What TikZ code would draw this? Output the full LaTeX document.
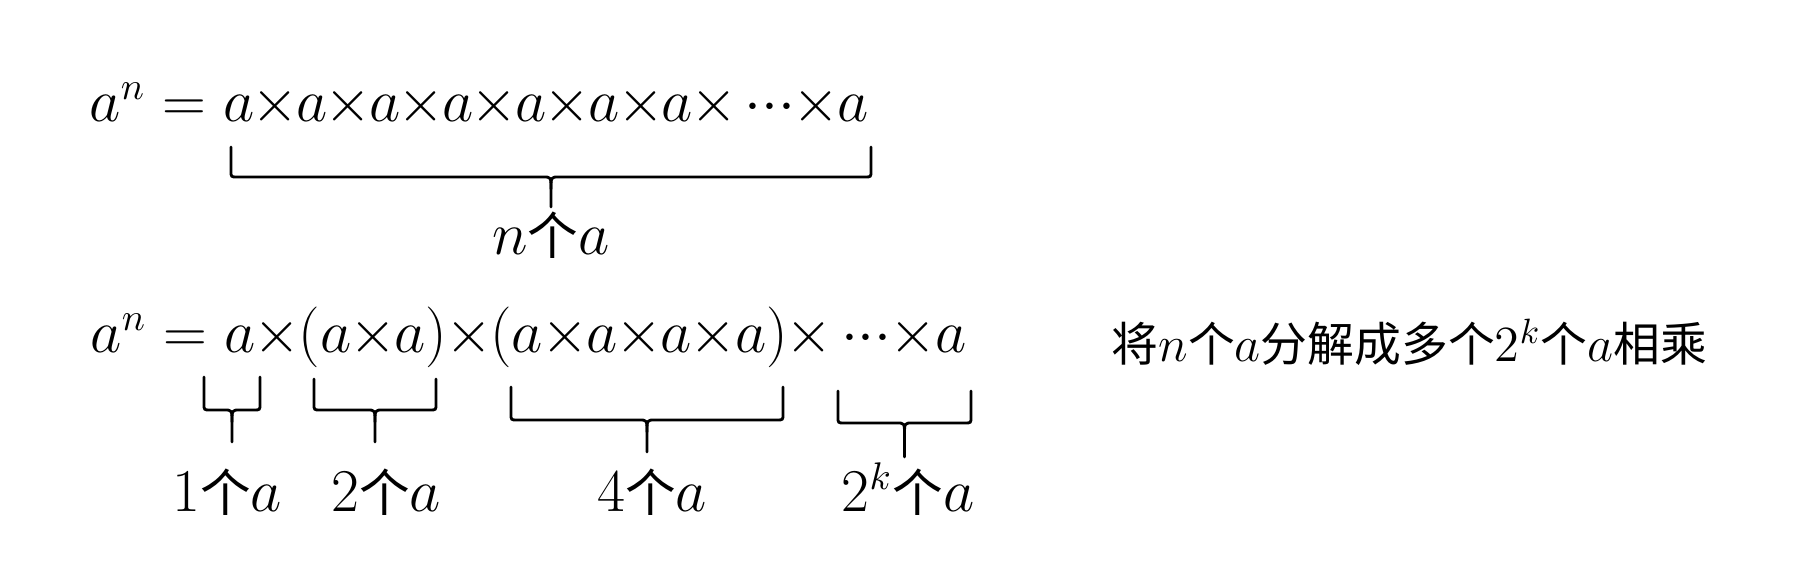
\documentclass[tikz,border=0pt]{standalone}
\usepackage{amsmath}
\usepackage{fontspec}
\newfontfamily\cjk{Noto Sans CJK SC}[Scale=0.9]
\newcommand{\tm}{\mkern-0.8mu{\times}\mkern-0.8mu}
\newcommand{\tmb}{\mkern-0.6mu{\times}\mkern-0.6mu}
\newcommand{\dts}{\,{\cdot}{\cdot}{\cdot}}
\newcommand{\ubr}[5]{%
  \draw[brc] (#1,#3) -- (#1,#4+0.06) .. controls (#1,#4) .. (#1+0.06,#4)
    -- ({(#1+#2)/2-0.08},#4) .. controls ({(#1+#2)/2},#4) .. ({(#1+#2)/2},#4-0.12)
    -- ({(#1+#2)/2},#5);
  \draw[brc] (#2,#3) -- (#2,#4+0.06) .. controls (#2,#4) .. (#2-0.06,#4)
    -- ({(#1+#2)/2+0.08},#4) .. controls ({(#1+#2)/2},#4) .. ({(#1+#2)/2},#4-0.12);}

\begin{document}
\begin{tikzpicture}[font=\fontsize{16}{19}\selectfont,
    brc/.style={line width=0.8pt, line cap=round},
    eqn/.style={anchor=base west, inner sep=0pt},
    lbl/.style={anchor=base, inner sep=0pt}]
    \useasboundingbox (0,0) rectangle (18.06,5.70);
    \node[eqn] (row1) at (0.89,4.48)
        {$a^n = a\tm a\tm a\tm a\tm a\tm a\tm a\tm\dts\tm a$};
    \ubr{2.31}{8.71}{4.23}{3.93}{3.63}
    \node[lbl] (lbln) at (5.51,3.15) {$n${\cjk 个}$a$};
    \node[eqn] (row2) at (0.90,2.17)
        {$a^n = a\tmb(a\tmb a)\tmb(a\tmb a\tmb a\tmb a)\tmb\dts\tmb a$};
    \ubr{2.04}{2.60}{1.93}{1.60}{1.28}
    \ubr{3.14}{4.36}{1.91}{1.60}{1.28}
    \ubr{5.11}{7.83}{1.83}{1.50}{1.18}
    \ubr{8.38}{9.71}{1.79}{1.47}{1.13}
    \node[lbl] (lbl1) at (2.27,0.58) {$1${\cjk 个}$a$};
    \node[lbl] (lbl2) at (3.86,0.58) {$2${\cjk 个}$a$};
    \node[lbl] (lbl4) at (6.52,0.58) {$4${\cjk 个}$a$};
    \node[lbl] (lblk) at (9.08,0.58) {$2^k${\cjk 个}$a$};
    \node[eqn, font=\fontsize{14.8}{18}\selectfont] (note) at (11.11,2.08)
        {{\cjk 将}$n${\cjk 个}$a${\cjk 分解成多个}$2^k${\cjk 个}$a${\cjk 相乘}};
\end{tikzpicture}
\end{document}
